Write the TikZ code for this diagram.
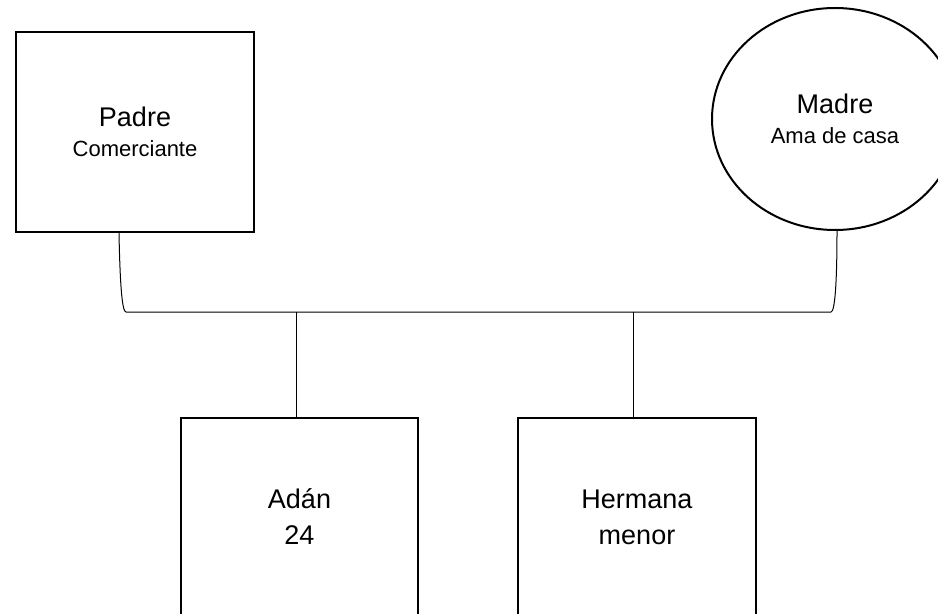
\documentclass[tikz,border=0pt]{standalone}
\usepackage{fontspec}
\setmainfont{Liberation Sans}
\usetikzlibrary{shapes.geometric,calc}
\tikzset{
  person/.style={draw, line width=2.5bp, inner sep=0pt, align=center},
  mbox/.style={person, rectangle},
  fbox/.style={person, ellipse, line width=2bp},
  big/.style={font=\fontsize{27bp}{36bp}\selectfont},
  small/.style={font=\fontsize{22bp}{30bp}\selectfont},
  link/.style={draw, line width=1bp}
}
\begin{document}
\begin{tikzpicture}[x=1bp,y=-1bp]
\useasboundingbox (0,0) rectangle (938,614);
\clip (0,0) rectangle (938,614);
\fill[white] (0,0) rectangle (938,614);
% parents
\node[mbox, small, minimum width=238bp, minimum height=200bp] (padre) at (135,132)
  {{\fontsize{27bp}{30bp}\selectfont Padre}\\Comerciante};
\node[fbox, small, minimum width=246bp, minimum height=222bp] (madre) at (835,119)
  {{\fontsize{27bp}{30bp}\selectfont Madre}\\Ama de casa};
% children
\node[mbox, big, minimum width=237bp, minimum height=198bp] (adan) at (299.5,517)
  {Adán\\24};
\node[mbox, big, minimum width=238bp, minimum height=198bp] (hermana) at (637,517)
  {Hermana\\menor};
% junction points
\coordinate (pj) at ($(padre.south)+(-16,0)$);
\coordinate (mj) at ($(madre.south)+(2,0)$);
\coordinate (jl) at (126,312);
\coordinate (jr) at (831,312);
\coordinate (c1) at (296,312);
\coordinate (c2) at (633,312);
% marriage line
\draw[link] (pj) .. controls ($(pj)+(1,50)$) and ($(jl)+(-4,0)$) .. (jl)
  -- (jr) .. controls ($(jr)+(4,0)$) and ($(mj)+(0,50)$) .. (mj);
% descent lines
\draw[link] (c1) -- (c1 |- adan.north);
\draw[link] (c2) -- (c2 |- hermana.north);
\end{tikzpicture}
\end{document}
